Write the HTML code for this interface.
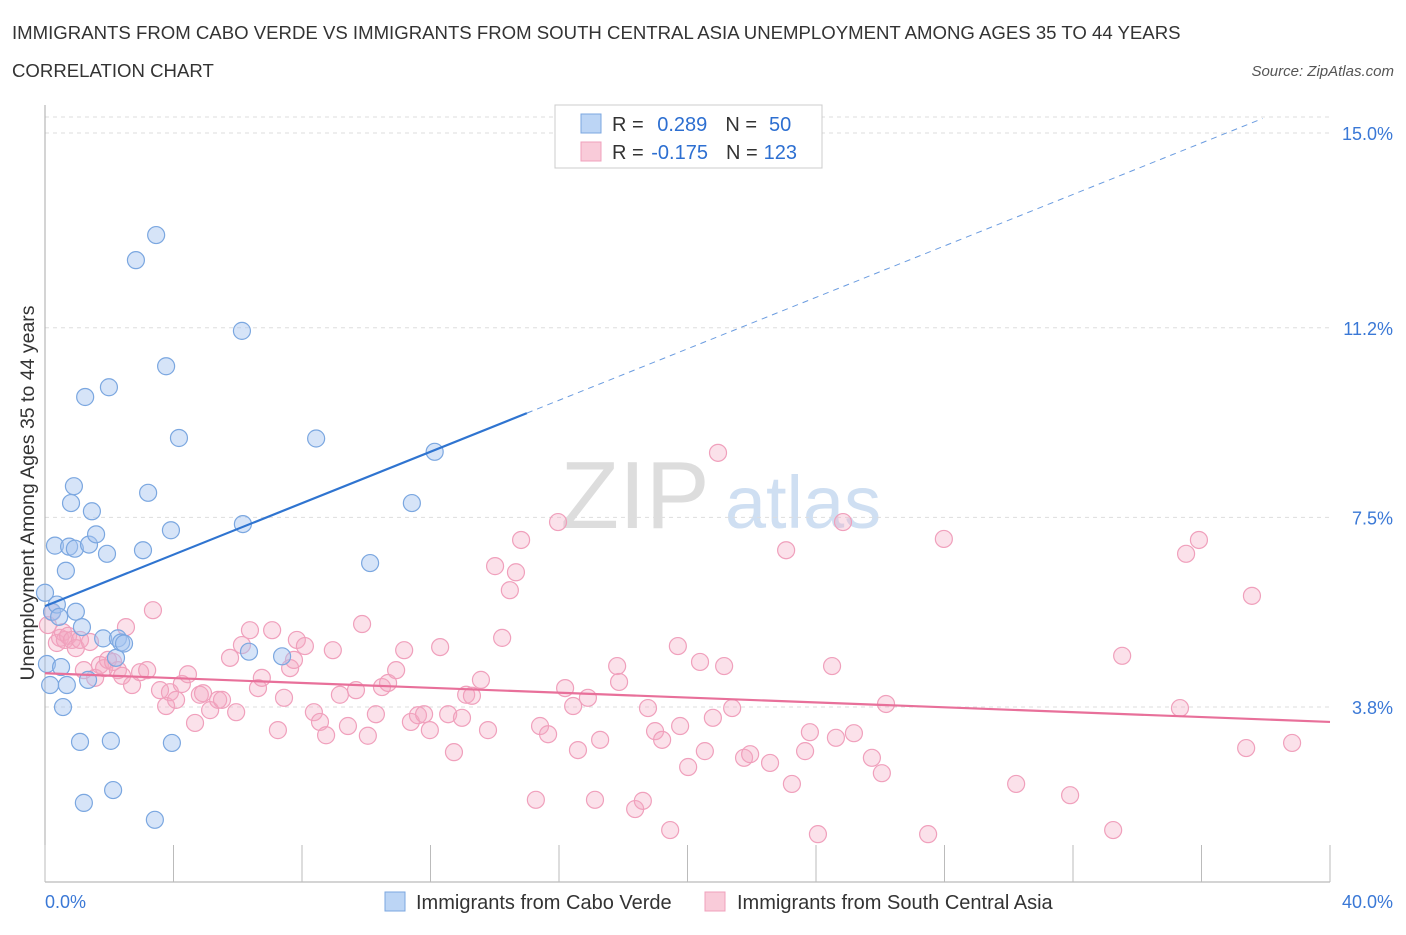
<!DOCTYPE html>
<html><head><meta charset="utf-8"><style>
body{margin:0;background:#fff;font-family:"Liberation Sans",sans-serif;}
svg text{font-family:"Liberation Sans",sans-serif;}
</style></head><body>
<svg id="chart" width="1406" height="930">
<text x="12" y="39" font-size="18.6" fill="#333">IMMIGRANTS FROM CABO VERDE VS IMMIGRANTS FROM SOUTH CENTRAL ASIA UNEMPLOYMENT AMONG AGES 35 TO 44 YEARS</text>
<text x="12" y="77" font-size="18.6" fill="#333">CORRELATION CHART</text>
<text x="1394" y="76" font-size="15" fill="#555" font-style="italic" text-anchor="end">Source: ZipAtlas.com</text>
<text transform="translate(34,493) rotate(-90)" font-size="19.5" fill="#333" text-anchor="middle">Unemployment Among Ages 35 to 44 years</text>
<g><text x="635" y="528" font-size="96" fill="#ddd" font-family="Liberation Serif,serif" text-anchor="middle">ZIP</text><text x="803" y="528" font-size="74" fill="#cfdff2" text-anchor="middle">atlas</text></g>
<g id="grid"></g><g id="axes"></g><g id="pts"></g><g id="trend"></g>
<g>
<rect x="555" y="105" width="267" height="63" fill="#fff" stroke="#ccc"/>
<rect x="581" y="114" width="20" height="19" fill="#bcd5f5" stroke="#7ba7e0"/>
<text x="612" y="131" font-size="20" fill="#333">R = <tspan fill="#2d6fd1" dx="8">0.289</tspan><tspan dx="18" fill="#333">N =</tspan><tspan dx="12" fill="#2d6fd1">50</tspan></text>
<rect x="581" y="142" width="20" height="19" fill="#f9cbd9" stroke="#f0a0bc"/>
<text x="612" y="159" font-size="20" fill="#333">R = <tspan fill="#2d6fd1" dx="2">-0.175</tspan><tspan dx="18" fill="#333">N =</tspan><tspan dx="6" fill="#2d6fd1">123</tspan></text>
</g>
<g>
<rect x="385" y="892" width="20" height="19" fill="#bcd5f5" stroke="#7ba7e0"/>
<text x="416" y="909" font-size="20" fill="#333">Immigrants from Cabo Verde</text>
<rect x="705" y="892" width="20" height="19" fill="#f9cbd9" stroke="#f0a0bc"/>
<text x="737" y="909" font-size="20" fill="#333">Immigrants from South Central Asia</text>
</g>
</svg>
<script>
const yTicks=[3.8,7.5,11.2,15.0];
const yTickLabels=["3.8%","7.5%","11.2%","15.0%"];
const xTickLabels=["0.0%","40.0%"];
const blueX=[0.00,0.06,0.16,0.22,0.31,0.37,0.44,0.50,0.56,0.65,0.68,0.75,0.81,0.90,0.93,0.96,1.09,1.15,1.21,1.25,1.34,1.37,1.46,1.59,1.81,1.93,1.99,2.05,2.12,2.21,2.27,2.37,2.46,2.83,3.05,3.21,3.42,3.46,3.77,3.92,3.95,4.17,6.13,6.16,6.35,7.38,8.44,10.12,11.42,12.13];
const blueY=[6.03,4.64,4.23,5.66,6.95,5.80,5.56,4.58,3.80,6.46,4.23,6.93,7.78,8.11,6.89,5.66,3.12,5.36,1.93,9.85,4.33,6.97,7.62,7.17,5.14,6.79,10.04,3.14,2.18,4.76,5.14,5.06,5.04,12.52,6.86,7.98,1.60,13.01,10.45,7.25,3.10,9.05,11.14,7.37,4.88,4.79,9.04,6.61,7.78,8.78];
const pinkX=[0.09,0.22,0.37,0.47,0.56,0.62,0.72,0.84,0.96,1.09,1.21,1.40,1.56,1.71,1.84,1.96,2.12,2.27,2.40,2.52,2.71,2.96,3.18,3.36,3.58,3.77,3.89,4.08,4.26,4.45,4.67,4.82,4.92,5.14,5.39,5.51,5.76,5.95,6.13,6.38,6.63,6.75,7.07,7.25,7.44,7.63,7.75,7.84,8.09,8.37,8.56,8.75,8.96,9.18,9.43,9.68,9.87,10.05,10.30,10.49,10.68,10.93,11.18,11.39,11.61,11.80,11.98,12.30,12.55,12.73,12.98,13.11,13.29,13.57,13.79,14.01,14.23,14.47,14.66,14.82,15.28,15.41,15.66,15.97,16.19,16.44,16.59,16.90,17.12,17.28,17.81,17.87,18.37,18.61,18.77,18.99,19.21,19.46,19.70,19.77,20.02,20.39,20.54,20.79,20.95,21.14,21.39,21.76,21.95,22.57,23.07,23.25,23.66,23.81,24.06,24.50,24.62,24.84,25.18,25.74,26.05,26.18,27.49,27.98,30.23,31.91,33.25,33.53,35.33,35.52,35.92,37.39,37.57,38.82];
const pinkY=[5.40,5.65,5.05,5.15,5.26,5.11,5.19,5.11,4.95,5.11,4.52,5.07,4.37,4.62,4.56,4.72,4.68,4.52,4.41,5.36,4.23,4.48,4.52,5.69,4.13,3.82,4.09,3.94,4.25,4.44,3.49,4.04,4.07,3.74,3.94,3.94,4.76,3.70,5.01,5.30,4.17,4.37,5.30,3.35,3.98,4.56,4.72,5.11,4.99,3.70,3.51,3.25,4.91,4.04,3.43,4.13,5.42,3.24,3.66,4.19,4.27,4.52,4.91,3.51,3.64,3.66,3.35,4.97,3.66,2.92,3.59,4.04,4.02,4.33,3.35,6.55,5.15,6.08,6.43,7.06,1.99,3.43,3.27,7.41,4.17,3.82,2.96,3.98,1.99,3.16,4.60,4.29,1.81,1.97,3.78,3.33,3.16,1.40,4.99,3.43,2.63,4.68,2.94,3.59,8.76,4.60,3.78,2.81,2.88,2.71,6.86,2.30,2.94,3.31,1.32,4.60,3.20,7.41,3.29,2.81,2.51,3.86,1.32,7.08,2.30,2.08,1.40,4.80,3.78,6.79,7.06,3.00,5.97,3.10];
const blueTrend=[5.77,0.251];
const pinkTrend=[4.46,-0.02375];
const X=v=>45+v*32.125, Y=v=>901.8-v*51.25;
const NS="http://www.w3.org/2000/svg";
function mk(p,t,a){const e=document.createElementNS(NS,t);for(const k in a)e.setAttribute(k,a[k]);p.appendChild(e);return e;}
const grid=document.getElementById('grid'),axes=document.getElementById('axes');
yTicks.forEach((t,i)=>{
 const l=mk(grid,'line',{x1:45,x2:1330,y1:Y(t),y2:Y(t),stroke:'#ddd','stroke-dasharray':'4,4'});
 
 
 const tx=mk(axes,'text',{x:1393,y:Y(t)+7,'font-size':18,fill:'#3a78d6','text-anchor':'end'});
 tx.textContent=yTickLabels[i];
 
 
});
const tl=mk(grid,'line',{x1:45,x2:1330,y1:117,y2:117,stroke:'#ddd','stroke-dasharray':'4,4'});


const ya=mk(axes,'line',{x1:45,x2:45,y1:105,y2:882,stroke:'#aaa'});


const xa=mk(axes,'line',{x1:45,x2:1330,y1:882,y2:882,stroke:'#aaa'});


for(let i=0;i<=10;i++){const t=mk(axes,'line',{x1:X(i*4),x2:X(i*4),y1:845,y2:882,stroke:'#bbb'});
 
 }
[[0,'start',45],[40,'end',1393]].forEach((d,i)=>{const t=mk(axes,'text',{x:d[2],y:908,'font-size':18,fill:'#3a78d6','text-anchor':d[1]});t.textContent=xTickLabels[i];
 
 });
const pts=document.getElementById('pts');
pinkX.forEach((x,i)=>{const c=mk(pts,'circle',{cx:X(x),cy:Y(pinkY[i]),r:8.5,fill:'rgba(244,170,195,0.35)',stroke:'#f0a0bc','stroke-width':1.2});
 
 });
blueX.forEach((x,i)=>{const c=mk(pts,'circle',{cx:X(x),cy:Y(blueY[i]),r:8.5,fill:'rgba(164,196,240,0.45)',stroke:'#7ba7e0','stroke-width':1.2});
 
 });
const tr=document.getElementById('trend');
const b=v=>blueTrend[0]+blueTrend[1]*v, p=v=>pinkTrend[0]+pinkTrend[1]*v;
const b1=mk(tr,'line',{x1:X(0),y1:Y(b(0)),x2:X(15),y2:Y(b(15)),stroke:'#2f74d0','stroke-width':2.2});


const b2=mk(tr,'line',{x1:X(15),y1:Y(b(15)),x2:X(37.9),y2:Y(b(37.9)),stroke:'#6b9ce0','stroke-width':1,'stroke-dasharray':'6,5'});


const p1=mk(tr,'line',{x1:X(0),y1:Y(p(0)),x2:X(40),y2:Y(p(40)),stroke:'#e8709a','stroke-width':2.2});


</script>
</body></html>
